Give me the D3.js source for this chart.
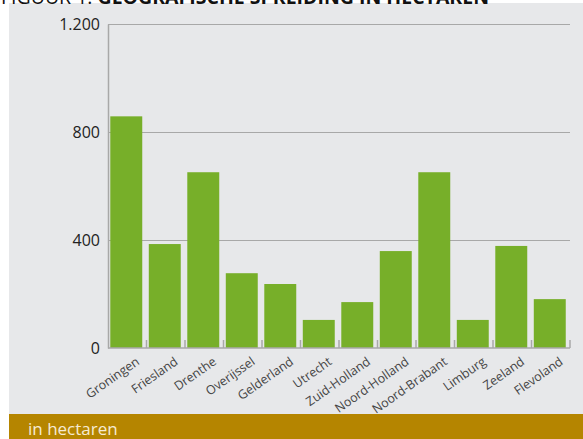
<!DOCTYPE html>
<html>
<head>
<meta charset="utf-8">
<script src="https://cdn.jsdelivr.net/npm/d3@7"></script>
<style>
  html, body { margin: 0; padding: 0; background: #fff; }
  svg { display: block; }
</style>
</head>
<body>
<svg id="chart"></svg>
<script>
/* ── Data ── */
const provinces = ['Groningen', 'Friesland', 'Drenthe', 'Overijssel', 'Gelderland', 'Utrecht',
  'Zuid-Holland', 'Noord-Holland', 'Noord-Brabant', 'Limburg', 'Zeeland', 'Flevoland'];
const hectares = [858, 385, 651, 277, 237, 104, 170, 359, 651, 104, 378, 181];
const yTicks = [0, 400, 800, 1200];
const yTickLabels = ['0', '400', '800', '1.200'];
const titlePrefix = 'FIGUUR 1: ';
const titleMain = 'GEOGRAFISCHE SPREIDING IN HECTAREN';
const unitLabel = 'in hectaren';

const W = 583, H = 439;
const FONT = '"Open Sans", "Noto Sans", sans-serif';
const GREEN = '#77AF29';
const PANEL = '#E7E8EA';
const GOLD = '#B58500';
const GRID = '#A8A8A8';

const margin = { top: 24, right: 13, bottom: 91, left: 108 };
const iW = W - margin.left - margin.right;
const iH = H - margin.top - margin.bottom;

const svg = d3.select('#chart')
  .attr('width', W)
  .attr('height', H)
  .attr('viewBox', `0 0 ${W} ${H}`);

/* ── Panel + footer band ── */
svg.append('rect')
  .attr('x', 9).attr('y', 3)
  .attr('width', W - 9).attr('height', 411)
  .attr('fill', PANEL);

svg.append('rect')
  .attr('x', 9).attr('y', 414)
  .attr('width', W - 9).attr('height', H - 414)
  .attr('fill', GOLD);

svg.append('text')
  .attr('x', 28).attr('y', 435)
  .attr('fill', '#F6EBD3')
  .attr('font-size', 17)
  .attr('font-family', FONT)
  .text(unitLabel);

/* ── Title (cropped at top, as in the source) ── */
const title = svg.append('text')
  .attr('x', 1).attr('y', 3.5)
  .attr('fill', '#111')
  .attr('font-size', 19.5)
  .attr('font-family', FONT);
title.append('tspan').text(titlePrefix);
title.append('tspan').attr('font-weight', 'bold').text(titleMain);

const g = svg.append('g')
  .attr('transform', `translate(${margin.left},${margin.top})`);

/* ── Scales ── */
const x = d3.scaleBand()
  .domain(provinces)
  .range([0, iW])
  .paddingInner(0.17)
  .paddingOuter(0.085)
  .align(0.35);

const y = d3.scaleLinear()
  .domain([0, 1200])
  .range([iH, 0]);

/* ── Grid lines ── */
g.append('g')
  .call(d3.axisLeft(y).tickValues(yTicks.slice(1)).tickSize(-iW).tickFormat(''))
  .call(ax => ax.select('.domain').remove())
  .call(ax => ax.selectAll('.tick line')
    .attr('stroke', GRID)
    .attr('stroke-width', 1.2));

/* ── Bars ── */
g.selectAll('.bar')
  .data(provinces)
  .join('rect')
  .attr('class', 'bar')
  .attr('x', d => x(d))
  .attr('y', (d, i) => y(hectares[i]))
  .attr('width', x.bandwidth())
  .attr('height', (d, i) => iH - y(hectares[i]))
  .attr('fill', GREEN);

/* ── Y axis ── */
g.append('g')
  .call(d3.axisLeft(y).tickValues(yTicks).tickSize(0).tickPadding(8)
    .tickFormat((v, i) => yTickLabels[i]))
  .call(ax => ax.select('.domain').attr('stroke', GRID).attr('stroke-width', 1.5))
  .call(ax => ax.selectAll('.tick text')
    .attr('fill', '#222')
    .attr('font-size', 16)
    .attr('font-family', FONT));

/* ── X axis: baseline + band-boundary ticks ── */
const boundaries = d3.range(1, provinces.length + 1).map(k => k * iW / provinces.length);

g.append('line')
  .attr('x1', 0).attr('x2', iW)
  .attr('y1', iH).attr('y2', iH)
  .attr('stroke', GRID).attr('stroke-width', 1.5);

g.selectAll('.xtick')
  .data(boundaries)
  .join('line')
  .attr('class', 'xtick')
  .attr('x1', d => d).attr('x2', d => d)
  .attr('y1', iH).attr('y2', iH - 8)
  .attr('stroke', GRID).attr('stroke-width', 1.5);

g.selectAll('.xlabel')
  .data(provinces)
  .join('text')
  .attr('class', 'xlabel')
  .attr('transform', d => `translate(${x(d) + x.bandwidth() / 2 + 8},${iH + 7}) rotate(-35)`)
  .attr('text-anchor', 'end')
  .attr('dominant-baseline', 'hanging')
  .attr('fill', '#444')
  .attr('font-size', 12.5)
  .attr('font-family', FONT)
  .text(d => d);
</script>
</body>
</html>
